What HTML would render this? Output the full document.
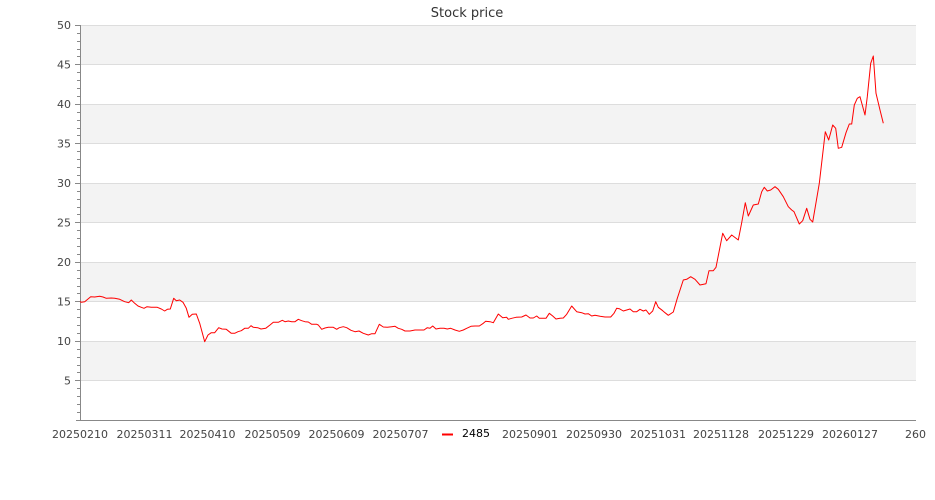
<!DOCTYPE html>
<html><head><meta charset="utf-8"><style>
html,body{margin:0;padding:0;background:#fff;}
svg{display:block;}
text{font-family:"DejaVu Sans","Liberation Sans",sans-serif;}
</style></head><body>
<svg width="935" height="500" viewBox="0 0 935 500" xmlns="http://www.w3.org/2000/svg">
<rect x="0" y="0" width="935" height="500" fill="#fff"/>
<text x="467" y="17" font-size="13" fill="#333" text-anchor="middle">Stock price</text>
<g fill="#f3f3f3">
<rect x="80" y="25" width="836" height="39.5"/>
<rect x="80" y="104" width="836" height="39.5"/>
<rect x="80" y="183" width="836" height="39.5"/>
<rect x="80" y="262" width="836" height="39.5"/>
<rect x="80" y="341" width="836" height="39.5"/>
</g>
<path stroke="#dddddd" stroke-width="1" fill="none" d="M80 25.5H916M80 64.5H916M80 104.5H916M80 143.5H916M80 183.5H916M80 222.5H916M80 262.5H916M80 301.5H916M80 341.5H916M80 380.5H916"/>
<path stroke="#888" stroke-width="1" fill="none" d="M80.5 25V420M76 420.5H916"/>
<path stroke="#888" stroke-width="1" fill="none" d="M75 25.5h5M77 33.5h3M77 41.5h3M77 49.5h3M77 56.5h3M75 64.5h5M77 72.5h3M77 80.5h3M77 88.5h3M77 96.5h3M75 104.5h5M77 112.5h3M77 120.5h3M77 128.5h3M77 135.5h3M75 143.5h5M77 151.5h3M77 159.5h3M77 167.5h3M77 175.5h3M75 183.5h5M77 191.5h3M77 199.5h3M77 207.5h3M77 214.5h3M75 222.5h5M77 230.5h3M77 238.5h3M77 246.5h3M77 254.5h3M75 262.5h5M77 270.5h3M77 278.5h3M77 286.5h3M77 293.5h3M75 301.5h5M77 309.5h3M77 317.5h3M77 325.5h3M77 333.5h3M75 341.5h5M77 349.5h3M77 357.5h3M77 365.5h3M77 372.5h3M75 380.5h5M77 388.5h3M77 396.5h3M77 404.5h3M77 412.5h3"/>
<g font-size="11" fill="#444" text-anchor="end">
<text x="71" y="29">50</text>
<text x="71" y="68.5">45</text>
<text x="71" y="108">40</text>
<text x="71" y="147.5">35</text>
<text x="71" y="187">30</text>
<text x="71" y="226.5">25</text>
<text x="71" y="266">20</text>
<text x="71" y="305.5">15</text>
<text x="71" y="345">10</text>
<text x="71" y="384.5">5</text>
</g>
<g font-size="11" fill="#444" text-anchor="middle">
<text x="80" y="438">20250210</text>
<text x="144.5" y="438">20250311</text>
<text x="207.5" y="438">20250410</text>
<text x="272.5" y="438">20250509</text>
<text x="336.5" y="438">20250609</text>
<text x="400.5" y="438">20250707</text>
<text x="530" y="438">20250901</text>
<text x="594" y="438">20250930</text>
<text x="658" y="438">20251031</text>
<text x="721" y="438">20251128</text>
<text x="786" y="438">20251229</text>
<text x="850" y="438">20260127</text>
<text x="905" y="438" text-anchor="start">260</text>
</g>
<rect x="438" y="426" width="58" height="14" fill="#fff"/>
<line x1="442" y1="434.5" x2="453" y2="434.5" stroke="#ff0000" stroke-width="2"/>
<text x="462" y="437" font-size="11" fill="#000">2485</text>
<polyline fill="none" stroke="#ff0000" stroke-width="1" stroke-linejoin="round" points="80,301.5 81.3,302.3 84.7,301.7 90.7,296.7 94.7,297 99.7,296.3 103,297 106.3,298.3 111.3,298 114.7,298.3 119.7,299.3 124.7,301.7 128.7,302.7 131.3,300 134.7,303.3 138,306 141.3,307.3 144,308.3 147,306.7 151.3,307.3 157.3,307.3 161.3,309 164.7,311 167.3,309.3 170.3,309 173.7,298.3 176.3,300.7 179.7,300 183,302.3 186.3,308.3 189,317.3 192.3,314.3 196.3,314 199.7,323.3 204.7,341.7 208,335 211.3,332.7 214.7,332.7 218.7,327.7 222,329 226.3,329.3 231.3,333.3 234.7,333.3 238,331.7 241.3,330.7 244.7,328.3 248.3,328.3 251,325.7 253.3,327.3 257.7,327.7 261,329 265.7,328.3 270,325 273.3,322.3 278.3,322.3 282.3,320.3 285,321.7 288.3,321 291.7,321.7 295,321.7 298.3,319.3 301.7,320.7 305,321.7 308.3,322 311.7,324.3 316.7,324.3 318.3,325 321.7,329.3 325,328 328.3,327.3 333.3,327.3 336.7,329.3 339.3,327.7 343.3,326.7 346.7,327.7 351,330.3 355,331.7 359,331 363.3,333.3 368.3,335 371.7,333.7 375,333.7 379.3,324.3 383.3,327 387.3,327.3 391.7,326.7 395,326.3 398.3,328.3 401.7,329.3 405,331 410,331 415,330 424,330 427.3,327.7 430,328.3 432.7,326 436,329 440,328.3 444,328.3 447.3,329 450.7,328.3 455,330 459.3,331.3 463.3,330 466.7,328.3 471,326.3 475,326 479.3,326 483.3,323.3 485.7,321.3 490,321.7 493.3,322.7 498.3,314 502.7,317.7 506.7,317.3 508.3,319.3 511.7,318.3 516,317.3 521.7,317 526,315 530,318 533.3,318 536.7,316 539.3,318.3 546,318.3 549.3,313.3 552.7,316 556,319 560,318.3 563.3,318 566.7,314.3 571.7,306 576.7,311.7 581.7,312.7 585,314 588.3,313.7 591.7,316 595,315.3 600,316.3 605,317 610.7,317 614,313.3 616.7,308.3 619.3,308.7 623.3,311 626.7,310 630,309 633.3,311.7 636.7,311.7 640,309.3 643.3,311 646,310 649.3,314.3 652.7,311 655.7,301.7 658.3,307.3 662.7,310.7 665,312.7 668.3,315.3 673.3,312 677.3,298.3 683.3,280 686.7,279.3 690.7,276.7 695,279.3 700,285 706,283.7 709,270.7 713.3,270.7 716,267.3 722.7,233.3 726.7,240.7 731.7,235 738.3,240 741.7,222.7 745.3,202.7 748.3,216 753.3,205 758.3,204 761.7,191.7 764.3,187.3 767.3,191 770.7,190 775,186.7 778.3,189.3 783.3,196.7 788.3,206.7 791.7,210 794,211.7 799.3,224 802.7,220.7 806.7,208.3 810,219.3 812.7,222 819.3,183.3 825.3,131.7 828.7,140 832.7,125 835.7,128.3 838.3,148.3 841.7,147.3 846,132.7 849.3,124 851.7,124 854.3,105 857.3,98.3 860,96.7 865,115 867.3,96.7 870.7,63.3 873.3,56 876,93.3 880,110 883.3,123.3"/>
</svg>
</body></html>
